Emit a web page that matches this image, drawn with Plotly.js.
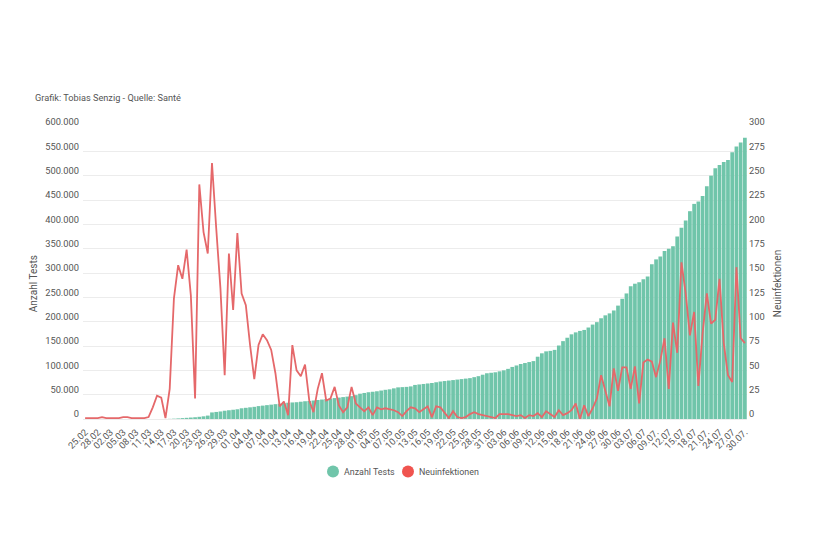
<!DOCTYPE html>
<html><head><meta charset="utf-8">
<script src="https://cdn.plot.ly/plotly-3.0.1.min.js"></script>
<style>html,body{margin:0;padding:0;background:#fff}#c{width:820px;height:547px}</style>
</head><body><div id="c"></div>
<script>
const days = ["25.02","26.02","27.02","28.02","29.02",
"01.03","02.03","03.03","04.03","05.03","06.03","07.03","08.03","09.03","10.03","11.03","12.03","13.03","14.03","15.03","16.03","17.03","18.03","19.03","20.03","21.03","22.03","23.03","24.03","25.03","26.03","27.03","28.03","29.03","30.03","31.03",
"01.04","02.04","03.04","04.04","05.04","06.04","07.04","08.04","09.04","10.04","11.04","12.04","13.04","14.04","15.04","16.04","17.04","18.04","19.04","20.04","21.04","22.04","23.04","24.04","25.04","26.04","27.04","28.04","29.04","30.04",
"01.05","02.05","03.05","04.05","05.05","06.05","07.05","08.05","09.05","10.05","11.05","12.05","13.05","14.05","15.05","16.05","17.05","18.05","19.05","20.05","21.05","22.05","23.05","24.05","25.05","26.05","27.05","28.05","29.05","30.05","31.05",
"01.06","02.06","03.06","04.06","05.06","06.06","07.06","08.06","09.06","10.06","11.06","12.06","13.06","14.06","15.06","16.06","17.06","18.06","19.06","20.06","21.06","22.06","23.06","24.06","25.06","26.06","27.06","28.06","29.06","30.06",
"01.07","02.07","03.07","04.07","05.07","06.07","07.07","08.07","09.07","10.07","11.07","12.07","13.07","14.07","15.07","16.07","17.07","18.07","19.07","20.07","21.07","22.07","23.07","24.07","25.07","26.07","27.07","28.07","29.07","30.07"];
const tickDays = ["25.02","28.02","02.03","05.03","08.03","11.03","14.03","17.03","20.03","23.03","26.03","29.03","01.04","04.04","07.04","10.04","13.04","16.04","19.04","22.04","25.04","28.04","01.05","04.05","07.05","10.05","13.05","16.05","19.05","22.05","25.05","28.05","31.05","03.06","06.06","09.06","12.06","15.06","18.06","21.06","24.06","27.06","30.06","03.07","06.07","09.07","12.07","15.07","18.07","21.07","24.07","27.07","30.07"];
const tickLabels = ["25.02","28.02","02.03","05.03","08.03","11.03","14.03","17.03","20.03","23.03","26.03","29.03","01.04","04.04","07.04","10.04","13.04","16.04","19.04","22.04","25.04","28.04","01.05","04.05","07.05","10.05","13.05","16.05","19.05","22.05","25.05","28.05","31.05","03.06","06.06","09.06","12.06","15.06","18.06","21.06","24.06","27.06","30.06","03.07","06.07","09.07.","12.07","15.07","18.07","21.07.","24.07","27.07","30.07."];
const tests = [null,null,null,null,null,null,null,null,null,null,null,null,null,null,null,null,null,null,null,null,
300,700,1200,1800,2400,3000,3600,4500,5500,7000,
13500,14500,15500,17000,18000,19000,20000,22000,23000,24000,
25000,26500,27500,28500,29500,30500,31500,32500,33500,34000,
34500,35500,36500,37000,38000,39000,40000,41000,42000,43000,
44000,45000,46000,47000,49000,52000,53500,55000,56000,57000,
58500,60000,61000,63000,65000,65500,66000,67000,70000,71000,
72000,73000,74000,75500,77000,78000,79000,80000,81000,82000,
83000,84000,86000,88000,91000,94000,95000,96000,98000,100000,
103000,107000,110000,113000,115000,117000,119000,128000,135000,139000,
140000,142000,151000,160000,167000,174000,178000,181000,183000,188000,
194000,199000,207000,213000,217000,223000,233000,247000,258000,273000,
278000,281000,287000,293000,318000,328000,334000,345000,350000,355000,
375000,393000,408000,427000,442000,447000,458000,478000,500000,515000,
522000,528000,532000,548000,560000,568000,578000];
const cases = [1,1,1,1,2,1,1,1,1,2,2,1,1,1,1,
2,12,24,22,1,31,124,158,144,174,127,21,241,192,170,
263,196,134,45,170,112,191,129,117,76,41,76,87,81,71,
47,13,18,4,76,50,44,56,19,7,31,47,19,21,33,
14,7,12,33,16,12,8,12,4,12,10,11,10,9,7,
3,8,12,11,7,10,13,2,13,12,7,1,8,2,1,
2,5,7,5,4,3,2,1,5,5,5,4,3,4,1,
4,3,6,2,8,5,2,9,4,6,9,16,0,14,3,
11,21,45,28,13,52,29,53,53,31,54,16,58,61,59,
43,60,83,31,99,68,161,129,86,110,34,88,129,98,102,
144,78,45,38,156,83,78];
const yTicks = [0,50000,100000,150000,200000,250000,300000,350000,400000,450000,500000,550000,600000];
const yLabels = ["0","50.000","100.000","150.000","200.000","250.000","300.000","350.000","400.000","450.000","500.000","550.000","600.000"];
const y2Ticks = [0,25,50,75,100,125,150,175,200,225,250,275,300];
const seriesNames = ["Anzahl Tests","Neuinfektionen"];
const teal = "#70c5aa", red = "#e5686a";
const tf = {family:"Roboto, sans-serif", size:9.3, color:"#555"};
const atf = {family:"Roboto, sans-serif", size:10, color:"#555"};
const lf = {family:"Roboto, sans-serif", size:8.9, color:"#555"};
const traces = [
 {type:"bar", name:seriesNames[0], x:days, y:tests, yaxis:"y", marker:{color:teal,line:{width:0}}, showlegend:false},
 {type:"scatter", mode:"lines", name:seriesNames[1], x:days, y:cases, yaxis:"y2", line:{color:red,width:1.8}, showlegend:false, cliponaxis:false},
 {type:"scatter", mode:"markers", name:seriesNames[0], x:[null], y:[null], marker:{color:teal,size:12}},
 {type:"scatter", mode:"markers", name:seriesNames[1], x:[null], y:[null], yaxis:"y2", marker:{color:"#f0544f",size:12}}
];
const layout = {
 width:820, height:547, paper_bgcolor:"#fff", plot_bgcolor:"#fff",
 margin:{l:83,r:73,t:127,b:128.4,pad:0}, bargap:0.12, font:tf,
 title:{text:"Grafik: Tobias Senzig - Quelle: Santé", x:35/820, xanchor:"left", y:1-98/547, yanchor:"middle", font:{family:"Roboto, sans-serif",size:9.2,color:"#555"}},
 xaxis:{type:"category", categoryorder:"array", categoryarray:days, range:[-0.5,156.5], tickmode:"array", tickvals:tickDays, ticktext:tickLabels, tickangle:-45, tickfont:tf, showgrid:false, ticks:"", showline:false, zeroline:false, automargin:false, ticklabelstandoff:5},
 yaxis:{range:[0,600000], tickmode:"array", tickvals:yTicks, ticktext:yLabels, tickfont:tf, gridcolor:"#ececec", gridwidth:1, zeroline:true, zerolinecolor:"#ececec", showline:false, ticks:"", ticklabelshift:-5, ticklabelstandoff:3, automargin:false},
 yaxis2:{overlaying:"y", side:"right", range:[0,300], tickmode:"array", tickvals:y2Ticks, tickfont:tf, showgrid:false, zeroline:false, showline:false, ticks:"", ticklabelshift:-5, ticklabelstandoff:1, automargin:false},
 annotations:[
  {text:"Anzahl Tests", xref:"paper", yref:"paper", x:(33-83)/664, y:(418.6-283)/291.6, textangle:-90, showarrow:false, font:atf, xanchor:"center", yanchor:"middle"},
  {text:"Neuinfektionen", xref:"paper", yref:"paper", x:(777-83)/664, y:(418.6-283)/291.6, textangle:-90, showarrow:false, font:atf, xanchor:"center", yanchor:"middle"}
 ],
 showlegend:true,
 legend:{orientation:"h", x:(304-83)/664, xanchor:"left", y:-0.18, yanchor:"middle", font:lf, itemwidth:30, entrywidth:30, entrywidthmode:"pixels"}
};
Plotly.newPlot("c", traces, layout, {displayModeBar:false, staticPlot:true}).then(() => {
  document.querySelectorAll("#c .legend .legendsymbols").forEach(el => el.setAttribute("transform", "translate(9,0)"));
  document.querySelectorAll("#c .legend, #c .legend .scrollbox").forEach(el => { el.removeAttribute("clip-path"); el.style.clipPath = "none"; });
});
</script></body></html>
